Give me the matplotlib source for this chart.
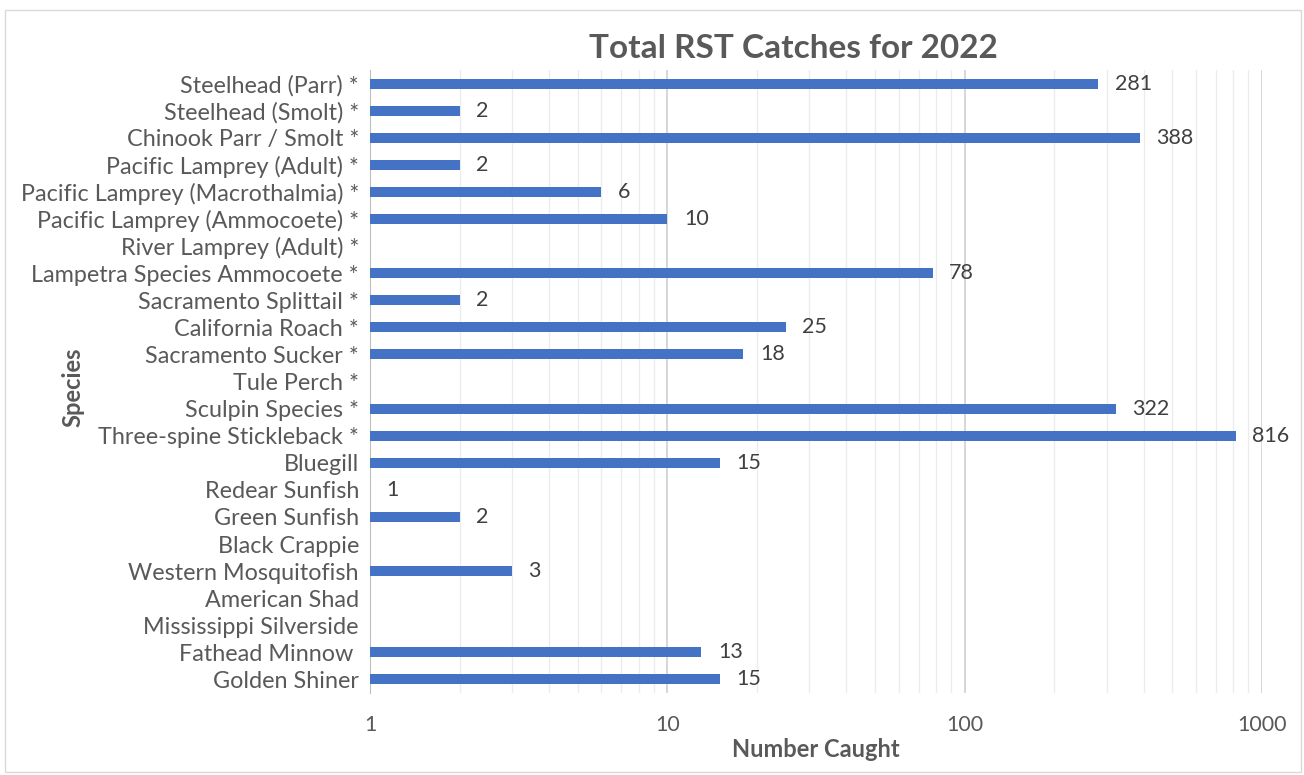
import matplotlib
matplotlib.use("Agg")
import matplotlib.pyplot as plt
import numpy as np
from matplotlib.patches import Rectangle

species = ["Steelhead (Parr) *", "Steelhead (Smolt) *", "Chinook Parr / Smolt *",
           "Pacific Lamprey (Adult) *", "Pacific Lamprey (Macrothalmia) *",
           "Pacific Lamprey (Ammocoete) *", "River Lamprey (Adult) *",
           "Lampetra Species Ammocoete *", "Sacramento Splittail *", "California Roach *",
           "Sacramento Sucker *", "Tule Perch *", "Sculpin Species *",
           "Three-spine Stickleback *", "Bluegill", "Redear Sunfish", "Green Sunfish",
           "Black Crappie", "Western Mosquitofish", "American Shad",
           "Mississippi Silverside", "Fathead Minnow ", "Golden Shiner"]
counts = [281, 2, 388, 2, 6, 10, None, 78, 2, 25, 18, None, 322, 816, 15, 1, 2,
          None, 3, None, None, 13, 15]
xticks = [1, 10, 100, 1000]

plt.rcParams['font.family'] = ['Lato', 'DejaVu Sans']
txt = '#595959'

fig = plt.figure(figsize=(13.04, 7.75), dpi=100)
fig.patches.append(Rectangle((5/1304, 3/775), 1296/1304, 762/775, transform=fig.transFigure,
                             fill=False, edgecolor='#d9d9d9', linewidth=1))
ax = fig.add_axes([370/1304, 1-693/775, 892/1304, 623/775])

y = np.arange(len(species))
vals = np.array([np.nan if c is None else c for c in counts], dtype=float)
for i, v in enumerate(vals):
    if np.isnan(v):
        continue
    ax.barh(i, v - 1, left=1, height=0.37, color='#4472C4', zorder=3)
    ax.annotate(f"{int(v)}", (v, i), xytext=(12, 0), textcoords='offset points',
                va='center', ha='left', fontsize=15.5, color='#404040')

ax.set_xscale('log')
ax.set_xlim(1, 1000)
ax.set_ylim(len(species) - 0.5, -0.5)
ax.set_yticks(y)
ax.set_yticklabels(species, fontsize=16.8, color=txt)
ax.set_xticks(xticks)
ax.set_xticklabels([str(t) for t in xticks], fontsize=15.5, color=txt)
ax.xaxis.set_minor_formatter(matplotlib.ticker.NullFormatter())
ax.tick_params(axis='both', which='both', length=0)
ax.tick_params(axis='x', pad=16)
ax.tick_params(axis='y', pad=8)
ax.grid(True, axis='x', which='major', color='#d0d0d0', linewidth=1.2, zorder=0)
ax.grid(True, axis='x', which='minor', color='#ececec', linewidth=1, zorder=0)
for s in ['top', 'right', 'bottom']:
    ax.spines[s].set_visible(False)
ax.spines['left'].set_color('#bfbfbf')

ax.set_xlabel("Number Caught", fontsize=17, fontweight='bold', color=txt, labelpad=2)
ax.set_ylabel("Species", fontsize=17, fontweight='bold', color=txt)
ax.yaxis.set_label_coords(-0.32, 0.49)
fig.text(793/1304, 1-48/775, "Total RST Catches for 2022", ha='center', va='center',
         fontsize=24, fontweight='bold', color=txt)

fig.savefig("out.png", dpi=100, facecolor='white')
